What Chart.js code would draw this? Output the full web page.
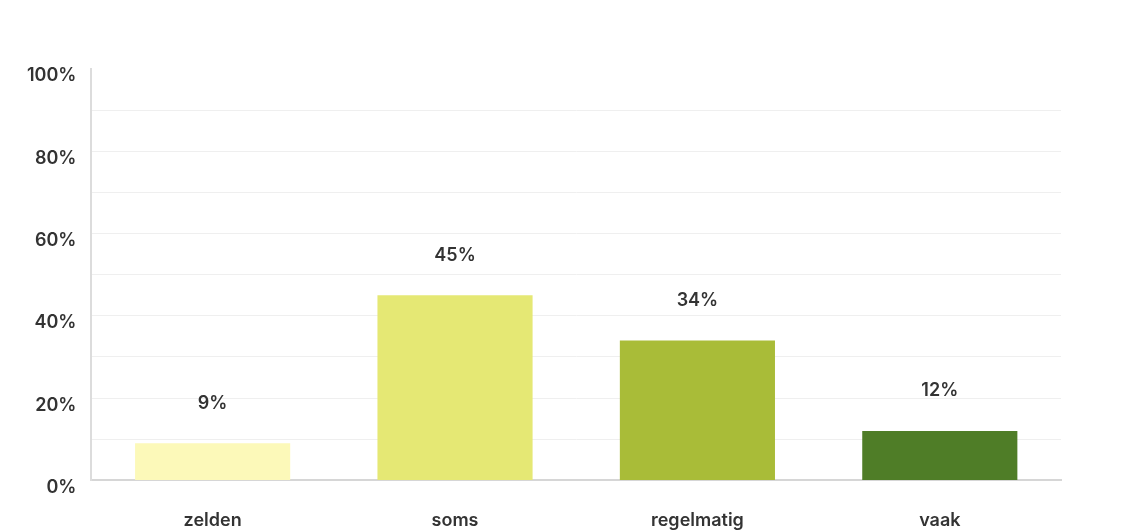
<!DOCTYPE html>
<html>
<head>
<meta charset="utf-8">
<script src="https://cdn.jsdelivr.net/npm/chart.js@4"></script>
<style>
    html, body { margin: 0; padding: 0; background: #ffffff; overflow: hidden; }
    #wrap { width: 1145px; height: 531px; overflow: hidden; }
</style>
</head>
<body>
<div id="wrap"><canvas id="chart" width="1145" height="554"></canvas></div>
<script>
// data
const categories = ['zelden', 'soms', 'regelmatig', 'vaak'];
const percentages = [9, 45, 34, 12];
const barColors = ['#fcf9b9', '#e5e874', '#a9bc38', '#4f7d27'];
const yTicks = [0, 20, 40, 60, 80, 100];

const fontFamily = 'Inter, "Noto Sans", sans-serif';

// draws "45%" etc. above each bar
const valueLabels = {
    id: 'valueLabels',
    afterDatasetsDraw(chart) {
        const ctx = chart.ctx;
        const meta = chart.getDatasetMeta(0);
        ctx.save();
        ctx.font = '600 18px ' + fontFamily;
        ctx.fillStyle = '#333333';
        ctx.textAlign = 'center';
        ctx.textBaseline = 'middle';
        meta.data.forEach((bar, i) => {
            ctx.fillText(percentages[i] + '%', bar.x, bar.y - 40);
        });
        ctx.restore();
    }
};

new Chart(document.getElementById('chart').getContext('2d'), {
    type: 'bar',
    data: {
        labels: categories,
        datasets: [{
            data: percentages,
            backgroundColor: barColors,
            borderWidth: 0,
            categoryPercentage: 1,
            barPercentage: 0.64
        }]
    },
    options: {
        responsive: false,
        animation: false,
        layout: { padding: { left: 12, right: 84, top: 69, bottom: 2 } },
        plugins: {
            legend: { display: false },
            tooltip: { enabled: false }
        },
        scales: {
            x: {
                grid: { display: false },
                border: { display: true, color: '#d6d6d6', width: 2 },
                ticks: {
                    color: '#333333',
                    padding: 21,
                    font: { family: fontFamily, size: 18, weight: '600' }
                }
            },
            y: {
                min: 0,
                max: 100,
                ticks: {
                    stepSize: 10,
                    color: '#333333',
                    padding: 15,
                    labelOffset: 7,
                    font: { family: fontFamily, size: 18, weight: '600' },
                    callback: (v) => yTicks.includes(v) ? v + '%' : ''
                },
                grid: {
                    drawTicks: false,
                    color: (c) => (c.tick.value === 0 || c.tick.value === 100) ? 'rgba(0,0,0,0)' : '#efefef',
                    lineWidth: 1
                },
                border: { display: true, color: '#dcdcdc', width: 2 }
            }
        }
    },
    plugins: [valueLabels]
});
</script>
</body>
</html>
